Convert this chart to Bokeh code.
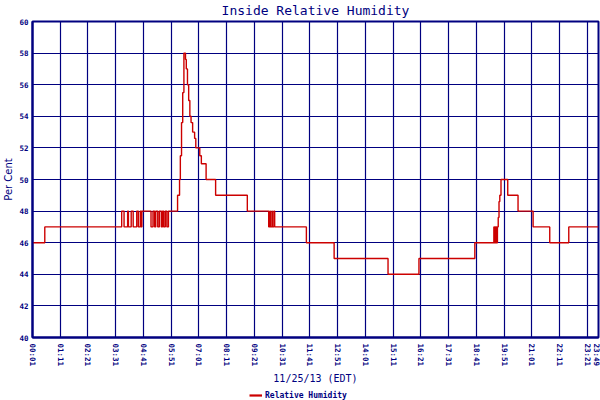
from bokeh.plotting import figure
from bokeh.layouts import column
from bokeh.models import FixedTicker, Legend, LegendItem, Range1d
from bokeh.embed import file_html
from bokeh.resources import INLINE

# --- data ---
times = [
    "00:01", "00:32",
    "03:46", "03:52", "04:01", "04:03", "04:10", "04:15", "04:24", "04:28",
    "04:33", "04:35", "04:37", "05:00", "05:05", "05:09", "05:12", "05:17",
    "05:21", "05:26", "05:29", "05:32", "05:36", "05:40", "05:44",
    "06:07", "06:12", "06:14", "06:17", "06:20", "06:23",
    "06:27", "06:29", "06:32", "06:35", "06:38", "06:41", "06:45", "06:50",
    "06:53", "07:03", "07:07", "07:19", "07:43", "09:03",
    "09:57", "10:00", "10:01", "10:05", "10:06", "10:10", "10:12",
    "11:32", "12:42", "14:58", "16:16", "18:37",
    "19:25", "19:26", "19:28", "19:29", "19:31", "19:32", "19:34",
    "19:36", "19:38", "19:40", "19:43", "20:00", "20:26", "21:04",
    "21:46", "22:34", "23:49",
]
humidity = [
    46, 47,
    48, 47, 48, 47, 48, 47, 48, 47,
    48, 47, 48, 47, 48, 47, 48, 47,
    48, 47, 48, 47, 48, 47, 48,
    49, 50, 51.5, 53.6, 55.5, 58,
    57.6, 57, 56, 55, 54, 53.6, 53, 52.6,
    52, 51.5, 51, 50, 49, 48,
    47, 48, 47, 48, 47, 48, 47,
    46, 45, 44, 45, 46,
    47, 46, 47, 46, 47, 46, 47,
    47.6, 48.6, 49, 50, 49, 48, 47,
    46, 47, 47,
]
tick_labels = [
    "00:01", "01:11", "02:21", "03:31", "04:41", "05:51", "07:01", "08:11",
    "09:21", "10:31", "11:41", "12:51", "14:01", "15:11", "16:21", "17:31",
    "18:41", "19:51", "21:01", "22:11", "23:21", "23:49",
]
y_ticks = [40, 42, 44, 46, 48, 50, 52, 54, 56, 58, 60]


def to_min(t):
    h, m = t.split(":")
    return int(h) * 60 + int(m)


xs = [to_min(t) for t in times]
tick_pos = [to_min(t) for t in tick_labels]

NAVY = "#000080"
RED = "#cc0000"
FONT = "DejaVu Sans Mono"

p = figure(
    width=600, height=390,
    x_range=Range1d(tick_pos[0], tick_pos[-1]),
    y_range=Range1d(40, 60),
    output_backend="svg", toolbar_location=None,
    min_border_left=32, min_border_right=2,
    min_border_top=20, min_border_bottom=53,
    background_fill_color="white", border_fill_color="white",
    outline_line_color=NAVY, outline_line_width=2,
)

p.title.text = "Inside Relative Humidity"
p.title.align = "center"
p.title.vertical_align = "top"
p.title.text_font = FONT
p.title.text_font_size = "13px"
p.title.text_font_style = "normal"
p.title.text_color = NAVY
p.title.standoff = 4
p.title.offset = 0

r = p.step(xs, humidity, mode="after", line_color=RED, line_width=1.4)

# axes
p.xaxis.ticker = FixedTicker(ticks=tick_pos)
p.xaxis.major_label_overrides = {pos: lab for pos, lab in zip(tick_pos, tick_labels)}
p.xaxis.major_label_orientation = "vertical"
p.yaxis.ticker = FixedTicker(ticks=y_ticks)

for ax in (p.xaxis[0], p.yaxis[0]):
    ax.axis_line_color = NAVY
    ax.axis_line_width = 2
    ax.major_tick_line_color = None
    ax.minor_tick_line_color = None
    ax.major_tick_out = 0
    ax.major_tick_in = 0
    ax.minor_tick_out = 0
    ax.minor_tick_in = 0
    ax.major_label_text_font = FONT
    ax.major_label_text_font_size = "7.5px"
    ax.major_label_text_font_style = "bold"
    ax.major_label_text_color = NAVY
    ax.axis_label_text_font_style = "normal"
    ax.axis_label_text_color = NAVY

p.xaxis.major_label_standoff = 6
p.yaxis.major_label_standoff = 4
p.xaxis.axis_label = "11/25/13 (EDT)"
p.xaxis.axis_label_text_font = FONT
p.xaxis.axis_label_text_font_size = "10px"
p.xaxis.axis_label_standoff = 4
p.yaxis.axis_label = "Per Cent"
p.yaxis.axis_label_text_font = "DejaVu Sans"
p.yaxis.axis_label_text_font_size = "10px"
p.yaxis.axis_label_standoff = 2

# grid
p.xgrid.ticker = FixedTicker(ticks=tick_pos)
p.ygrid.ticker = FixedTicker(ticks=y_ticks)
for g in (p.xgrid[0], p.ygrid[0]):
    g.grid_line_color = NAVY
    g.grid_line_width = 1.2
    g.grid_line_alpha = 1.0

# legend strip below the chart (series drawn out of view, only its key shows)
pl = figure(
    width=600, height=10,
    x_range=Range1d(0, 1), y_range=Range1d(0, 1),
    output_backend="svg", toolbar_location=None,
    min_border_left=0, min_border_right=0, min_border_top=0, min_border_bottom=0,
    outline_line_color=None, background_fill_color="white", border_fill_color="white",
)
pl.xaxis.visible = False
pl.yaxis.visible = False
pl.xgrid.visible = False
pl.ygrid.visible = False
r_leg = pl.step(xs, humidity, mode="after", line_color=RED, line_width=2.2)

legend = Legend(
    items=[LegendItem(label="Relative Humidity", renderers=[r_leg])],
    location=(217, 0), orientation="horizontal",
    padding=0, margin=0, spacing=0,
    glyph_width=13, glyph_height=10, label_height=10,
    label_standoff=3,
    label_text_font=FONT, label_text_font_size="8px",
    label_text_font_style="bold", label_text_color=NAVY,
    border_line_color=None, background_fill_alpha=0,
)
pl.add_layout(legend, "center")

layout = column(p, pl, spacing=0)
open("out.html", "w").write(file_html(layout, INLINE))
